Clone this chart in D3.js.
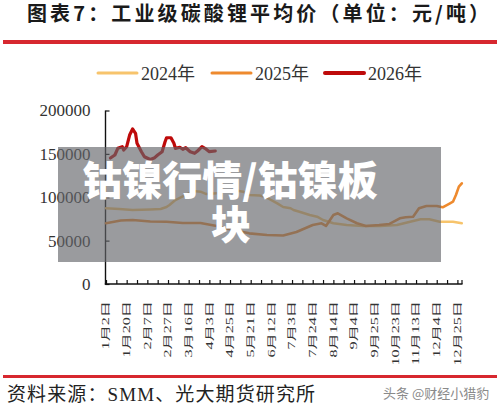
<!DOCTYPE html>
<html><head><meta charset="utf-8">
<script src="https://cdn.jsdelivr.net/npm/d3@7"></script>
<style>body{margin:0;background:#fff;} svg{display:block;}</style>
</head><body><svg id="c" width="500" height="410"></svg>
<script>
// ---- data (trading-day index within the year) ----
const xLabels = ["1月2日","1月20日","2月7日","2月27日","3月16日","4月3日","4月25日","5月21日","6月12日","7月3日","7月24日","8月14日","9月4日","9月25日","10月23日","11月13日","12月4日","12月25日"];
const xLabelDays = [0,14,28,42,56,70,84,98,112,126,140,154,168,182,196,210,224,238];
const xTickDays = [0,7,14,21,28,35,42,49,56,63,70,77,84,91,98,105,112,119,126,133,140,147,154,161,168,175,182,189,196,203,210,217,224,231,238];
const yTicks = [0,50000,100000,150000,200000];
const seriesNames = ["2024年","2025年","2026年"];

const days2024 = [0,9,18,30,37,41,43,47,52,59,64,68,75,79,86,93,97,104,108,116,120,125,127,131,138,143,147,154,163,174,186,197,206,213,219,226,235,241];
const price2024 = [87300,86500,85300,85900,86500,88800,91100,96800,100900,107200,106400,103700,104500,106400,108400,106400,102600,102000,100300,93000,88800,87300,85300,83300,79500,77600,73800,70000,68000,66900,66900,68000,71800,74600,74600,71800,71800,70000];

const days2025 = [0,10,18,30,41,52,64,75,86,97,109,120,129,140,146,149,154,157,163,170,176,185,192,199,203,208,212,217,224,228,233,235,237,239,241];
const price2025 = [70000,73200,73800,72000,71800,70300,70300,66900,62200,58400,56500,55900,59900,68000,70000,66900,79500,81500,75700,70000,66900,68000,69200,75700,76900,77600,87300,89900,89900,88400,93000,94900,102600,112200,116100];

const days2026 = [3,6,8,11,12,14,16,18,20,21,24,26,30,33,35,38,40,41,44,46,47,50,52,54,57,60,62,65,67,70,74];
const price2026 = [145200,148700,156400,158300,154500,158300,171700,178700,173700,162200,152500,146700,143500,145600,148700,152500,164000,168600,168600,162200,156400,157600,155300,157100,152500,150700,153300,158300,156400,152500,153300];

// ---- drawing ----
const colors = ["#F7C46C","#EE8A2E","#BE0A0A"];
const widths = [2.5,2.6,3.2];
const svg = d3.select("#c");
const serif = "'Liberation Serif','Noto Sans CJK SC',serif";

svg.append("rect").attr("width",500).attr("height",410).attr("fill","#fff");

// title
svg.append("text").attr("x",27).attr("y",21)
  .attr("font-family","'Noto Sans CJK SC',sans-serif").attr("font-weight",700)
  .attr("font-size",20).attr("fill","#1a1a1a")
  .attr("textLength",462).attr("lengthAdjust","spacing")
  .text("图表7：工业级碳酸锂平均价（单位：元/吨）");
svg.append("rect").attr("x",3).attr("y",40).attr("width",494).attr("height",4).attr("fill","#D7282F");

const x = d3.scaleLinear().domain([0,238]).range([106,457.4]);
const y = d3.scaleLinear().domain([0,200000]).range([284,110.5]);

// legend
const legX = [98,212,325];
seriesNames.forEach((n,i)=>{
  svg.append("line").attr("x1",legX[i]).attr("x2",legX[i]+39).attr("y1",73).attr("y2",73)
    .attr("stroke",colors[i]).attr("stroke-width",i===2?4:3).attr("stroke-linecap","round");
  svg.append("text").attr("x",legX[i]+43).attr("y",79.5).attr("font-family",serif)
    .attr("font-size",18).attr("fill","#333").text(n);
});

// y axis
const yAxis = svg.append("g").attr("transform","translate(105.5,0)")
  .call(d3.axisLeft(y).tickValues(yTicks).tickSize(-4).tickPadding(15).tickFormat(d3.format("d")));
yAxis.select(".domain").remove();
yAxis.selectAll(".tick line").attr("stroke","#111").attr("stroke-width",1.2);
yAxis.selectAll("text").attr("font-family",serif).attr("font-size",17).attr("fill","#333");

// x axis
const xAxis = svg.append("g").attr("transform","translate(0,284)")
  .call(d3.axisBottom(x).tickValues(xTickDays).tickSize(-4).tickFormat(""));
xAxis.select(".domain").remove();
xAxis.selectAll(".tick line").attr("stroke","#111").attr("stroke-width",1.2);
svg.append("line").attr("x1",105.5).attr("x2",105.5).attr("y1",110.5).attr("y2",284.6).attr("stroke","#111").attr("stroke-width",1.4);
svg.append("line").attr("x1",104.8).attr("x2",462.5).attr("y1",284).attr("y2",284).attr("stroke","#111").attr("stroke-width",1.4);
svg.append("line").attr("x1",462).attr("x2",462).attr("y1",280).attr("y2",284).attr("stroke","#111").attr("stroke-width",1.2);

svg.append("g").selectAll("text").data(xLabels).join("text")
  .attr("transform",(d,i)=>`translate(${x(xLabelDays[i])},301) rotate(-90) scale(1.7,1)`)
  .attr("text-anchor","end").attr("dy","0.35em")
  .attr("font-family",serif).attr("font-size",9.5).attr("fill","#333")
  .text(d=>d);

// lines
const sets = [[days2024,price2024],[days2025,price2025],[days2026,price2026]];
const line = d3.line().x(d=>x(d[0])).y(d=>y(d[1]));
sets.forEach((s,i)=>{
  const pts = s[0].map((d,j)=>[d,s[1][j]]);
  svg.append("path").datum(pts).attr("d",line).attr("fill","none")
    .attr("stroke",colors[i]).attr("stroke-width",widths[i])
    .attr("stroke-linejoin","round").attr("stroke-linecap","round");
});

// bottom rule & source
svg.append("rect").attr("x",3).attr("y",375).attr("width",494).attr("height",3).attr("fill","#D7282F");
svg.append("text").attr("x",7).attr("y",401).attr("font-family",serif).attr("font-size",19)
  .attr("fill","#222").attr("textLength",308).attr("lengthAdjust","spacing")
  .text("资料来源：SMM、光大期货研究所");
svg.append("text").attr("x",383).attr("y",397.5).attr("font-family","'Noto Sans CJK SC',sans-serif")
  .attr("font-size",13).attr("fill","#8a8a8a").text("头条 @财经小猎豹");

// overlay banner
svg.append("rect").attr("x",58).attr("y",147).attr("width",383).attr("height",115).attr("fill","rgba(100,102,106,0.65)");
const ov = svg.append("g").attr("font-family","'Noto Sans CJK SC',sans-serif").attr("font-weight",900)
  .attr("font-size",40).attr("fill","#fff").attr("text-anchor","middle");
ov.append("text").attr("x",230).attr("y",195).text("钴镍行情/钴镍板");
ov.append("text").attr("x",231).attr("y",238.5).text("块");
</script></body></html>
